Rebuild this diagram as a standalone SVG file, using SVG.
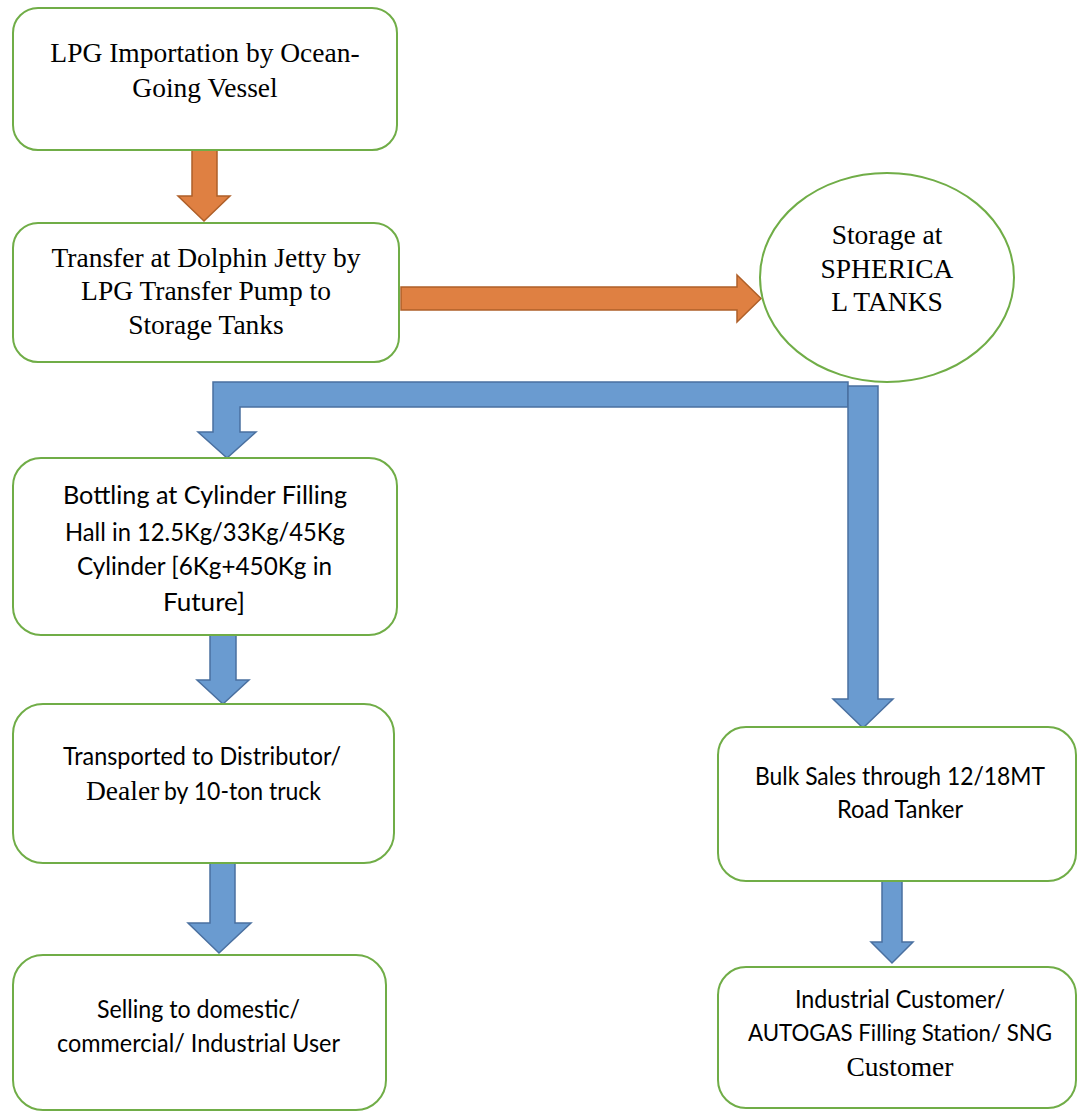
<svg xmlns="http://www.w3.org/2000/svg" width="1078" height="1111" viewBox="0 0 1078 1111">
<style>
  .box { fill: #ffffff; stroke: #70AD47; stroke-width: 2; }
  .serif { font-family: "Liberation Serif", "Times New Roman", serif; font-size: 27.5px; fill: #000; text-anchor: middle; }
  .sans { font-family: Lato, "Open Sans", sans-serif; font-size: 24.5px; fill: #000; }
  .orange { fill: #DF8042; stroke: #AF5F28; stroke-width: 1.5; stroke-linejoin: miter; }
  .blue { fill: #6A9BD0; stroke: #4A70A0; stroke-width: 1.5; stroke-linejoin: miter; }
</style>
<rect width="1078" height="1111" fill="#ffffff"/>

<g id="connectors">
  <polygon class="orange" points="192,150 217,150 217,196 230,196 204,221 178,196 192,196"/>
  <polygon class="orange" points="401,287 737,287 737,275 761,298.5 737,322 737,310 401,310"/>
  <polygon class="blue" points="848,382 213,382 213,432 198,432 227,458 256,432 240,432 240,407 848,407"/>
  <polygon class="blue" points="848,386 878,386 878,699 893,699 863,728 833,699 848,699"/>
  <polygon class="blue" points="210,635 236,635 236,680 249,680 223,704 197,680 210,680"/>
  <polygon class="blue" points="210,863 235,863 235,923 251,923 219,953 188,923 210,923"/>
  <polygon class="blue" points="882,881 902,881 902,942 913,942 892,963 871,942 882,942"/>
</g>

<g id="node-import">
  <rect class="box" x="13" y="8" width="384" height="142" rx="25"/>
  <text class="serif" x="205" y="62">LPG Importation by Ocean-</text>
  <text class="serif" x="205" y="97">Going Vessel</text>
</g>

<g id="node-transfer">
  <rect class="box" x="13" y="223" width="386" height="139" rx="25"/>
  <text class="serif" x="206" y="267">Transfer at Dolphin Jetty by</text>
  <text class="serif" x="206" y="300">LPG Transfer Pump to</text>
  <text class="serif" x="206" y="334">Storage Tanks</text>
</g>

<g id="node-storage">
  <ellipse class="box" cx="887" cy="277.5" rx="127" ry="104.5"/>
  <text class="serif" x="887" y="244">Storage at</text>
  <text class="serif" x="887" y="278">SPHERICA</text>
  <text class="serif" x="887" y="311">L TANKS</text>
</g>

<g id="node-bottling">
  <rect class="box" x="13" y="458" width="384" height="177" rx="28"/>
  <text class="sans" x="63" y="504" textLength="284" lengthAdjust="spacingAndGlyphs">Bottling at Cylinder Filling</text>
  <text class="sans" x="65" y="541" textLength="280" lengthAdjust="spacingAndGlyphs">Hall in 12.5Kg/33Kg/45Kg</text>
  <text class="sans" x="77" y="575" textLength="255" lengthAdjust="spacingAndGlyphs">Cylinder [6Kg+450Kg in</text>
  <text class="sans" x="163" y="611" textLength="82" lengthAdjust="spacingAndGlyphs">Future]</text>
</g>

<g id="node-transported">
  <rect class="box" x="13" y="704" width="381" height="159" rx="30"/>
  <text class="sans" x="63" y="765" textLength="278" lengthAdjust="spacingAndGlyphs">Transported to Distributor/</text>
  <text class="serif" x="86" y="800" style="text-anchor:start">Dealer</text>
  <text class="sans" x="164" y="800" textLength="157" lengthAdjust="spacingAndGlyphs">by 10-ton truck</text>
</g>

<g id="node-selling">
  <rect class="box" x="13" y="955" width="373" height="155" rx="30"/>
  <text class="sans" x="97" y="1018" textLength="203" lengthAdjust="spacingAndGlyphs">Selling to domestic/</text>
  <text class="sans" x="57" y="1052" textLength="283" lengthAdjust="spacingAndGlyphs">commercial/ Industrial User</text>
</g>

<g id="node-bulk">
  <rect class="box" x="718" y="727" width="358" height="154" rx="28"/>
  <text class="sans" x="755" y="785" textLength="290" lengthAdjust="spacingAndGlyphs">Bulk Sales through 12/18MT</text>
  <text class="sans" x="837" y="818" textLength="126" lengthAdjust="spacingAndGlyphs">Road Tanker</text>
</g>

<g id="node-industrial">
  <rect class="box" x="718" y="967" width="358" height="141" rx="28"/>
  <text class="sans" x="795" y="1008" textLength="210" lengthAdjust="spacingAndGlyphs">Industrial Customer/</text>
  <text class="sans" x="748" y="1041" style="font-size:22.5px" textLength="304" lengthAdjust="spacingAndGlyphs">AUTOGAS Filling Station/ SNG</text>
  <text class="serif" x="900" y="1076">Customer</text>
</g>
</svg>
